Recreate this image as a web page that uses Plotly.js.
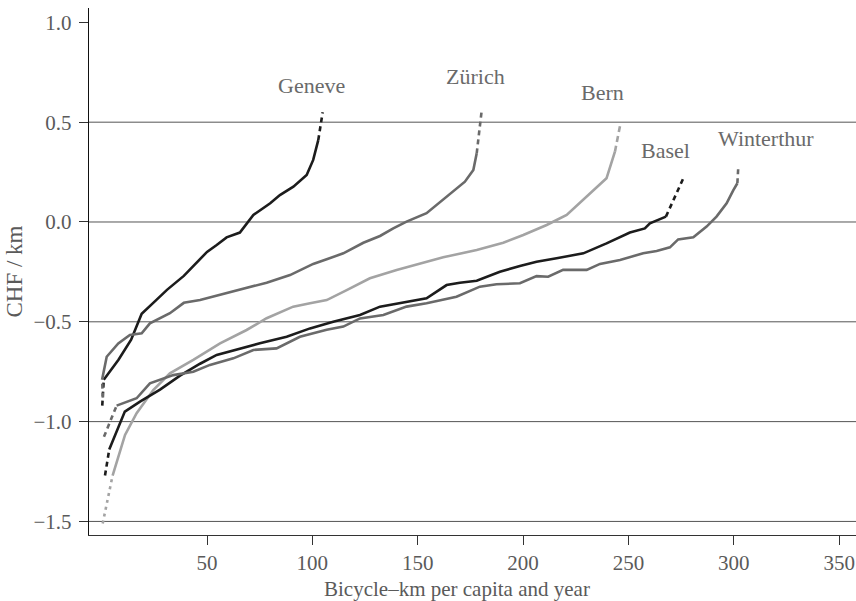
<!DOCTYPE html>
<html>
<head>
<meta charset="utf-8">
<script src="https://cdn.plot.ly/plotly-3.0.1.min.js"></script>
<style>html,body{margin:0;padding:0;background:#fff;}#chart{width:856px;height:601px;}</style>
</head>
<body>
<div id="chart"></div>
<script>
// City names
var cities = ['Geneve', 'Zürich', 'Bern', 'Basel', 'Winterthur'];

// Curves: first segment (points 0-1) and last segment (last two points) are drawn dashed
var geneveX = [0.3, 1, 8, 14, 19, 26, 31, 39, 43.5, 50, 54.6, 59.3, 65.6, 68.8, 72, 80, 84.6, 91, 97.3, 100.4, 102.8, 104.9];
var geneveY = [-0.92, -0.79, -0.69, -0.59, -0.46, -0.39, -0.34, -0.27, -0.22, -0.15, -0.115, -0.077, -0.053, -0.007, 0.035, 0.094, 0.135, 0.177, 0.235, 0.311, 0.41, 0.55];

var zurichX = [0.6, 0.2, 2.4, 7.9, 13.4, 19, 22.9, 32.4, 39, 46.7, 56.2, 68.8, 78.3, 89.4, 100.4, 106.8, 114.7, 124.2, 132.1, 138.4, 144.7, 154.2, 163.7, 172.4, 176.4, 178, 180.3];
var zurichY = [-0.88, -0.79, -0.675, -0.608, -0.566, -0.558, -0.508, -0.457, -0.405, -0.391, -0.366, -0.332, -0.304, -0.266, -0.210, -0.187, -0.157, -0.104, -0.070, -0.032, 0.002, 0.044, 0.127, 0.202, 0.261, 0.344, 0.553];

var bernX = [0.5, 5.2, 11.1, 16.6, 24.5, 32.4, 43.5, 56.2, 68.8, 78.3, 90.9, 98.9, 106.8, 116.3, 127.3, 140, 151.1, 162.1, 178, 190.6, 200.1, 211.2, 220.7, 228.6, 239.6, 243.6, 246.3];
var bernY = [-1.51, -1.27, -1.067, -0.958, -0.842, -0.758, -0.691, -0.608, -0.541, -0.482, -0.424, -0.407, -0.391, -0.341, -0.282, -0.240, -0.207, -0.177, -0.140, -0.104, -0.065, -0.015, 0.035, 0.110, 0.219, 0.352, 0.497];

var baselX = [1.6, 3.6, 11, 18.2, 27.7, 37.2, 46.7, 54.6, 65.6, 75.1, 87.8, 98.9, 109.9, 122.6, 132.1, 144.7, 154.2, 163.7, 170, 178, 189, 198.5, 206.4, 215.9, 228.6, 239.6, 250.7, 257.8, 260.2, 267.8, 276.4];
var baselY = [-1.27, -1.14, -0.95, -0.90, -0.84, -0.77, -0.71, -0.666, -0.633, -0.608, -0.575, -0.533, -0.50, -0.466, -0.424, -0.399, -0.382, -0.316, -0.304, -0.294, -0.249, -0.220, -0.199, -0.182, -0.157, -0.107, -0.053, -0.032, -0.007, 0.027, 0.227];

var winterthurX = [1.1, 7.1, 11.9, 16.6, 22.9, 27.7, 34, 43.5, 51.4, 62.5, 72, 83, 94.1, 106.8, 114.7, 122.6, 133.7, 144.7, 154.2, 168.4, 179.5, 187.4, 198.5, 206.4, 211.9, 219, 230.2, 236.5, 246, 257, 263.4, 269.7, 273.6, 280.8, 287.1, 291.8, 296.6, 299.8, 301.7, 302.1];
var winterthurY = [-1.076, -0.92, -0.90, -0.883, -0.808, -0.79, -0.767, -0.75, -0.716, -0.683, -0.641, -0.633, -0.575, -0.540, -0.524, -0.483, -0.466, -0.424, -0.407, -0.374, -0.324, -0.312, -0.307, -0.271, -0.274, -0.240, -0.240, -0.210, -0.190, -0.157, -0.145, -0.127, -0.087, -0.077, -0.023, 0.027, 0.094, 0.160, 0.194, 0.269];

// Label positions (data coordinates)
var labelX = [99.8, 177.2, 237.5, 267.4, 315.3];
var labelY = [0.686, 0.727, 0.651, 0.356, 0.416];

// Axis ticks and titles
var xTicks = [50, 100, 150, 200, 250, 300, 350];
var yTicks = [-1.5, -1.0, -0.5, 0.0, 0.5, 1.0];
var gridValues = [-1.5, -1.0, -0.5, 0.0, 0.5];
var xTitle = 'Bicycle–km per capita and year';
var yTitle = 'CHF / km';

var seriesX = [geneveX, zurichX, bernX, baselX, winterthurX];
var seriesY = [geneveY, zurichY, bernY, baselY, winterthurY];
var colors = ['#1c1c1c', '#6a6a6a', '#a3a3a3', '#1c1c1c', '#6a6a6a'];
var startDash = ['5px,4px', '5px,4px', '3px,4px', '5px,4px', '5px,4px'];
var endDash = ['5px,4px', '5px,4px', '6px,4px', '5px,4px', '5px,4px'];

var traces = [];
for (var i = 0; i < cities.length; i++) {
  var xs = seriesX[i], ys = seriesY[i], n = xs.length;
  traces.push({x: xs.slice(0, 2), y: ys.slice(0, 2), mode: 'lines', name: cities[i],
    line: {color: colors[i], width: 2.6, dash: startDash[i]}, hoverinfo: 'skip', showlegend: false});
  traces.push({x: xs.slice(1, n - 1), y: ys.slice(1, n - 1), mode: 'lines', name: cities[i],
    line: {color: colors[i], width: 2.6}, showlegend: false});
  traces.push({x: xs.slice(n - 2), y: ys.slice(n - 2), mode: 'lines', name: cities[i],
    line: {color: colors[i], width: 2.6, dash: endDash[i]}, hoverinfo: 'skip', showlegend: false});
}

var fontFam = '"Liberation Serif", "DejaVu Serif", serif';
var annotations = cities.map(function (c, i) {
  return {x: labelX[i], y: labelY[i], text: c, showarrow: false, xref: 'x', yref: 'y',
    font: {family: fontFam, size: 22, color: '#6a6a6a'}};
});
// x-axis title (placed as in the reference, slightly left of the plot centre)
annotations.push({x: 0.4798, y: -0.1025, xref: 'paper', yref: 'paper', xanchor: 'center', yanchor: 'middle',
  text: xTitle, showarrow: false, font: {family: fontFam, size: 21, color: '#5a5a5a'}});

var shapes = gridValues.map(function (v) {
  return {type: 'line', xref: 'paper', x0: 0, x1: 1, yref: 'y', y0: v, y1: v,
    line: {color: '#555', width: 1}, layer: 'below'};
});

var layout = {
  width: 856, height: 601,
  margin: {l: 89, r: 0, t: 8, b: 66},
  paper_bgcolor: '#fff', plot_bgcolor: '#fff',
  font: {family: fontFam, size: 20, color: '#5a5a5a'},
  xaxis: {
    range: [-6, 358], tickvals: xTicks, ticktext: xTicks.map(String),
    ticks: 'outside', ticklen: 9, tickcolor: '#333', showline: true, linecolor: '#333', linewidth: 1.2,
    showgrid: false, zeroline: false,
    tickfont: {family: fontFam, size: 21, color: '#5a5a5a'}
  },
  yaxis: {
    range: [-1.568, 1.072], tickvals: yTicks, tickformat: '.1f',
    ticks: 'outside', ticklen: 9, tickcolor: '#333', showline: true, linecolor: '#111', linewidth: 1.2,
    showgrid: false, zeroline: false, ticklabelstandoff: 3,
    tickfont: {family: fontFam, size: 21, color: '#5a5a5a'},
    title: {text: yTitle, font: {family: fontFam, size: 23, color: '#5a5a5a'}, standoff: 4}
  },
  shapes: shapes,
  annotations: annotations,
  showlegend: false
};

Plotly.newPlot('chart', traces, layout, {displayModeBar: false, staticPlot: true});
</script>
</body>
</html>
